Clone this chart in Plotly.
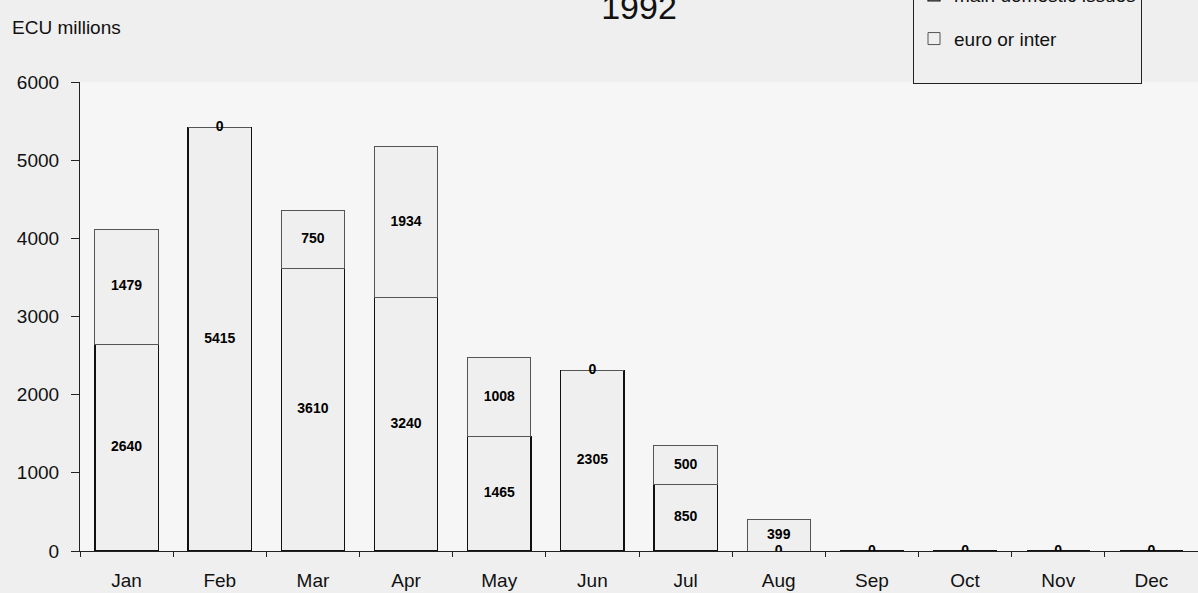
import plotly.graph_objects as go

months = ["Jan", "Feb", "Mar", "Apr", "May", "Jun", "Jul", "Aug", "Sep", "Oct", "Nov", "Dec"]
main_domestic = [2640, 5415, 3610, 3240, 1465, 2305, 850, 0, 0, 0, 0, 0]
euro_inter = [1479, 0, 750, 1934, 1008, 0, 500, 399, 0, 0, 0, 0]
y_ticks = [0, 1000, 2000, 3000, 4000, 5000, 6000]

BG = "#efefef"
FONT = "Arial, Liberation Sans, sans-serif"

fig = go.Figure()
fig.add_trace(go.Bar(
    x=months, y=main_domestic, name="main domestic issues",
    legendgroup="a", width=0.68,
    marker=dict(color=BG, line=dict(color="#111111", width=1.2)),
    hoverinfo="x+y",
))
fig.add_trace(go.Bar(
    x=months, y=euro_inter, name="euro or inter<br> ",
    legendgroup="b", width=0.68,
    marker=dict(color=BG, line=dict(color="#555555", width=1)),
    hoverinfo="x+y",
))

# segment labels at the middle of each segment (0 values sit on their edge)
mid_main = [v / 2 for v in main_domestic]
mid_euro = [m + e / 2 for m, e in zip(main_domestic, euro_inter)]
fig.add_trace(go.Scatter(
    x=months, y=mid_main, mode="text", text=[str(v) for v in main_domestic],
    textfont=dict(family=FONT, size=14, color="#000000", weight="bold"),
    showlegend=False, hoverinfo="skip",
))
euro_x = [m for m, d, e in zip(months, main_domestic, euro_inter) if not (d == 0 and e == 0)]
euro_y = [y for y, d, e in zip(mid_euro, main_domestic, euro_inter) if not (d == 0 and e == 0)]
euro_t = [str(e) for d, e in zip(main_domestic, euro_inter) if not (d == 0 and e == 0)]
fig.add_trace(go.Scatter(
    x=euro_x, y=euro_y, mode="text", text=euro_t,
    textfont=dict(family=FONT, size=14, color="#000000", weight="bold"),
    showlegend=False, hoverinfo="skip",
))

fig.update_layout(
    width=1198, height=593,
    barmode="stack",
    paper_bgcolor=BG, plot_bgcolor="#f6f6f6",
    margin=dict(l=80, r=0, t=82, b=42, autoexpand=False),
    font=dict(family=FONT, size=19, color="#111111"),
    title=dict(text="1992", x=(80 + 1198) / 2 / 1198, xanchor="center",
               y=1 - 7 / 593, yanchor="middle",
               font=dict(size=34, family=FONT, color="#111111")),
    legend=dict(
        x=(913 - 80) / 1118, xanchor="left",
        y=(551 - 84) / 469, yanchor="bottom",
        bgcolor=BG, bordercolor="#222222", borderwidth=1,
        traceorder="grouped", tracegroupgap=16, valign="top",
        entrywidth=254, entrywidthmode="pixels",
        font=dict(size=19, family=FONT),
    ),
    xaxis=dict(
        type="category", range=[-0.5, 11.5],
        showline=True, linecolor="#222222", linewidth=1.2,
        ticks="outside", tickson="boundaries", ticklen=5, tickcolor="#222222",
        ticklabelstandoff=12, showgrid=False, zeroline=False,
        tickfont=dict(size=19),
    ),
    yaxis=dict(
        range=[0, 6000], tickvals=y_ticks,
        showline=True, linecolor="#222222", linewidth=1.2,
        ticks="outside", ticklen=8, tickcolor="#222222",
        ticklabelstandoff=8,
        showgrid=False, zeroline=False,
        tickfont=dict(size=19),
    ),
    annotations=[dict(
        text="ECU millions", xref="paper", yref="paper",
        x=-70 / 1118, y=1 + (82 - 27) / 469, xanchor="left", yanchor="middle",
        showarrow=False, font=dict(size=19, family=FONT, color="#111111"),
    )],
)

fig.write_html("out.html", config={"displayModeBar": False},
               post_script="document.body.style.margin='0';")
